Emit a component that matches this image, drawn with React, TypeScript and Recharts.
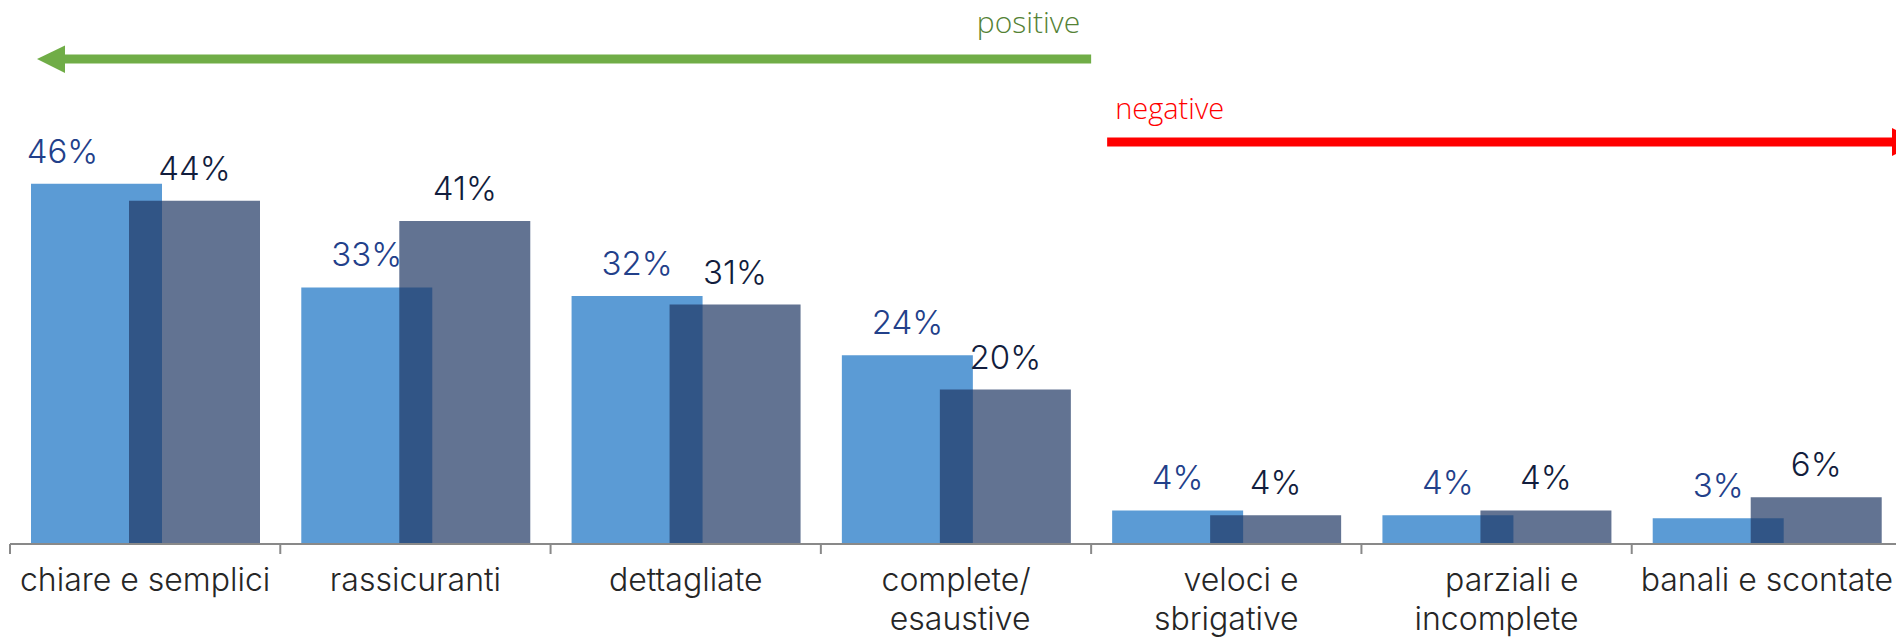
import React from 'react';
import { Bar, BarChart, LabelList, XAxis, YAxis } from 'recharts';

const categories = [
  'chiare e semplici',
  'rassicuranti',
  'dettagliate',
  'complete/\nesaustive',
  'veloci e\nsbrigative',
  'parziali e\nincomplete',
  'banali e scontate',
];
const lightSeries = [46.2, 32.9, 31.8, 24.2, 4.3, 3.7, 3.3];
const darkSeries = [44.0, 41.4, 30.7, 19.8, 3.7, 4.3, 6.0];
const yDomain = [0, 50];
const positiveLabel = 'positive';
const negativeLabel = 'negative';

const data = categories.map((name, i) => ({
  name,
  light: lightSeries[i],
  dark: darkSeries[i],
}));

const W = 1896;
const H = 638;
const PLOT_LEFT = 10;
const PLOT_W = 1892;
const PLOT_TOP = 154;
const AXIS_H = 94;
const BAND = PLOT_W / categories.length;

const FONT = 'Inter, "Open Sans", sans-serif';
const NOTE_FONT = '"Open Sans", Lato, sans-serif';
const CAT_SIZE = 32;
const VAL_SIZE = 33;
const AXIS_COLOR = '#898989';

let measureCtx: CanvasRenderingContext2D | null = null;
function textWidth(s: string) {
  if (!measureCtx) measureCtx = document.createElement('canvas').getContext('2d');
  if (!measureCtx) return s.length * CAT_SIZE * 0.5;
  measureCtx.font = `300 ${CAT_SIZE}px ${FONT}`;
  return measureCtx.measureText(s).width;
}

function CategoryTick(props: any) {
  const { x, y, payload } = props;
  const lines = String(payload.value).split('\n');
  const multi = lines.length > 1;
  const widest = Math.max(...lines.map(textWidth));
  const left = x - BAND / 2;
  return (
    <g>
      <line x1={left} x2={left} y1={y} y2={y + 10} stroke={AXIS_COLOR} strokeWidth={2} />
      {lines.map((line, i) => (
        <text
          key={i}
          x={multi ? x + widest / 2 : x}
          y={y + 47 + i * 39}
          textAnchor={multi ? 'end' : 'middle'}
          fontFamily={FONT}
          fontWeight={300}
          fontSize={CAT_SIZE}
          fill="#262626"
        >
          {line}
        </text>
      ))}
    </g>
  );
}

// the first light label sits left of its bar, as in the original slide
function valueLabel(color: string, shiftFirst: boolean) {
  return (props: any) => {
    const vb = props.viewBox ?? props;
    const x = props.x ?? vb.x;
    const y = props.y ?? vb.y;
    const width = props.width ?? vb.width;
    const dx = shiftFirst && props.index === 0 ? -34 : 0;
    return (
      <text
        x={x + width / 2 + dx}
        y={y - 21}
        textAnchor="middle"
        fontFamily={FONT}
        fontWeight={300}
        fontSize={VAL_SIZE}
        fill={color}
      >
        {Math.round(Number(props.value))}%
      </text>
    );
  };
}

function Arrows() {
  const split = PLOT_LEFT + 4 * BAND;
  return (
    <svg
      width={W}
      height={H}
      style={{ position: 'absolute', left: 0, top: 0, pointerEvents: 'none' }}
    >
      <line x1={65} x2={split} y1={59} y2={59} stroke="#70ad47" strokeWidth={9} />
      <polygon points={`37,59 65,45.5 65,73`} fill="#70ad47" />
      <text
        x={split - 11}
        y={33}
        textAnchor="end"
        fontFamily={NOTE_FONT}
        fontWeight={300}
        fontSize={30}
        fill="#548235"
      >
        {positiveLabel}
      </text>
      <line x1={split + 16} x2={1893} y1={142} y2={142} stroke="#ff0000" strokeWidth={9} />
      <polygon points={`1892,128 1892,156 1920,142`} fill="#ff0000" />
      <text
        x={split + 24}
        y={119}
        fontFamily={NOTE_FONT}
        fontWeight={300}
        fontSize={29}
        fill="#ff0000"
      >
        {negativeLabel}
      </text>
    </svg>
  );
}

export default function App() {
  return (
    <div
      style={{
        position: 'absolute',
        left: 0,
        top: 0,
        width: W,
        height: H,
        overflow: 'hidden',
        background: '#fff',
      }}
    >
      <BarChart
        width={PLOT_LEFT + PLOT_W + 2}
        height={H}
        data={data}
        margin={{ top: PLOT_TOP, right: 2, bottom: 0, left: PLOT_LEFT }}
        barSize={131}
        barGap={-33}
      >
        <XAxis
          dataKey="name"
          height={AXIS_H}
          interval={0}
          tickSize={0}
          tickMargin={0}
          tickLine={false}
          axisLine={{ stroke: AXIS_COLOR, strokeWidth: 2 }}
          tick={<CategoryTick />}
        />
        <YAxis hide domain={yDomain} />
        <Bar dataKey="light" fill="#5b9bd5" isAnimationActive={false}>
          <LabelList dataKey="light" content={valueLabel('#22408a', true)} />
        </Bar>
        <Bar dataKey="dark" fill="#1f3864" fillOpacity={0.7} isAnimationActive={false}>
          <LabelList dataKey="dark" content={valueLabel('#121d3d', false)} />
        </Bar>
      </BarChart>
      <Arrows />
    </div>
  );
}
